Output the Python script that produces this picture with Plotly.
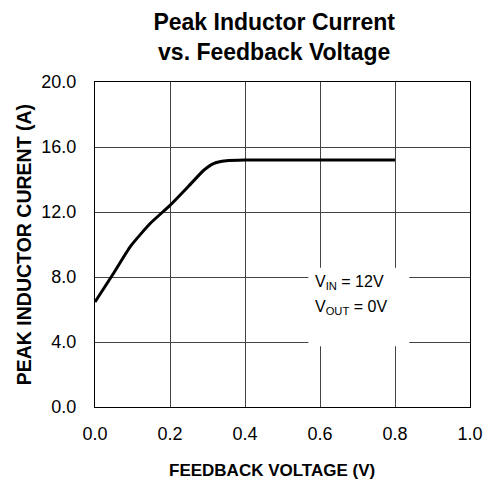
import plotly.graph_objects as go

# Peak inductor current vs. feedback voltage (VIN = 12V, VOUT = 0V)
feedback_v = [0.0, 0.05, 0.095, 0.147, 0.20, 0.25, 0.29, 0.316, 0.35, 0.40, 0.80]
peak_current = [6.46, 8.25, 9.9, 11.29, 12.41, 13.6, 14.57, 14.98, 15.15, 15.2, 15.2]

x_ticks = [0.0, 0.2, 0.4, 0.6, 0.8, 1.0]
y_ticks = [0.0, 4.0, 8.0, 12.0, 16.0, 20.0]

FONT = "Liberation Sans, Arial, sans-serif"

fig = go.Figure()
fig.add_trace(go.Scatter(
    x=feedback_v, y=peak_current, mode="lines",
    line=dict(color="black", width=3, shape="spline", smoothing=0.5),
    showlegend=False, hoverinfo="skip",
))

axis_common = dict(
    showline=True, linecolor="black", linewidth=1, mirror=True,
    showgrid=True, gridcolor="#444444", gridwidth=1,
    zeroline=False, ticks="outside", tickcolor="rgba(0,0,0,0)",
    tickfont=dict(family=FONT, size=18, color="black"),
    automargin=False,
)

fig.update_xaxes(range=[0, 1.0], tickvals=x_ticks,
                 ticktext=[f"{v:.1f}" for v in x_ticks], ticklen=10, **axis_common)
fig.update_yaxes(range=[0, 20.0], tickvals=y_ticks,
                 ticktext=[f"{v:.1f}" for v in y_ticks], ticklen=14, **axis_common)

# Axis titles
fig.add_annotation(x=0.4707, y=-0.195, xref="paper", yref="paper",
                   xanchor="center", yanchor="middle", showarrow=False,
                   text="<b>FEEDBACK VOLTAGE (V)</b>",
                   font=dict(family=FONT, size=17, color="black"))
fig.add_annotation(x=-0.19, y=0.5, xref="paper", yref="paper",
                   xanchor="center", yanchor="middle", showarrow=False, textangle=-90,
                   text="<b>PEAK INDUCTOR CURENT (A)</b>",
                   font=dict(family=FONT, size=19.5, color="black"))

# White box behind the operating-condition note, hiding the grid there
fig.add_shape(type="rect", xref="x", yref="y", x0=0.569, x1=0.838, y0=3.74, y1=8.57,
              fillcolor="white", line=dict(width=0), layer="between")

fig.add_annotation(x=0.58, y=7.65, xref="x", yref="y", xanchor="left", yanchor="middle",
                   text="V<sub>IN</sub> = 12V", showarrow=False,
                   font=dict(family=FONT, size=16, color="black"))
fig.add_annotation(x=0.58, y=6.12, xref="x", yref="y", xanchor="left", yanchor="middle",
                   text="V<sub>OUT</sub> = 0V", showarrow=False,
                   font=dict(family=FONT, size=16, color="black"))

fig.update_layout(
    width=487, height=479,
    margin=dict(l=95, r=17, t=82, b=72),
    paper_bgcolor="white", plot_bgcolor="white",
    title=dict(text="<b>Peak Inductor Current<br>vs. Feedback Voltage</b>",
               x=0.563, xanchor="center", y=0.937, yanchor="top",
               font=dict(family=FONT, size=23, color="black")),
)

fig.write_html("out.html")
